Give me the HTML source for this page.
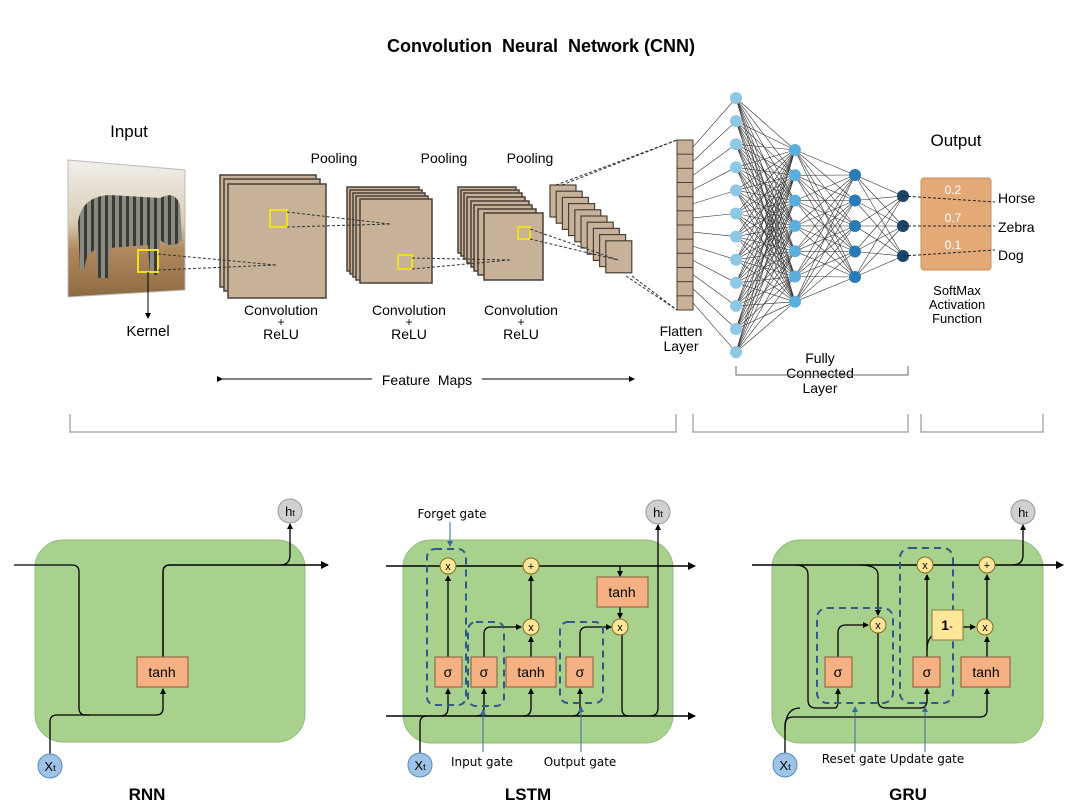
<!DOCTYPE html>
<html><head><meta charset="utf-8"><style>
html,body{margin:0;padding:0;background:#fff;}
svg{display:block;font-family:"Liberation Sans",sans-serif;}
</style></head><body>
<svg id="s" width="1080" height="803" viewBox="0 0 1080 803" xmlns="http://www.w3.org/2000/svg">
<defs>
<marker id="a" markerWidth="8" markerHeight="8" refX="7" refY="4" orient="auto" markerUnits="userSpaceOnUse"><path d="M0,0 L8,4 L0,8 z" fill="#000"/></marker>
<marker id="as" markerWidth="6" markerHeight="6" refX="5" refY="3" orient="auto" markerUnits="userSpaceOnUse"><path d="M0,0 L6,3 L0,6 z" fill="#000"/></marker>
<marker id="ab" markerWidth="6" markerHeight="6" refX="5" refY="3" orient="auto" markerUnits="userSpaceOnUse"><path d="M0,0 L6,3 L0,6 z" fill="#3a6a9a"/></marker>
<linearGradient id="zb" x1="0" y1="0" x2="0" y2="1"><stop offset="0" stop-color="#f2f0ec"/><stop offset="0.45" stop-color="#d9cdb8"/><stop offset="0.65" stop-color="#b08a5e"/><stop offset="1" stop-color="#8e6a43"/></linearGradient>
<pattern id="st" width="7" height="10" patternUnits="userSpaceOnUse"><rect width="7" height="10" fill="#8a8a80"/><rect width="3" height="10" fill="#3a3a36"/></pattern>
</defs>

<text x="541" y="52" text-anchor="middle" font-size="18" font-weight="bold">Convolution&#160; Neural&#160; Network (CNN)</text>

<!-- Input -->
<text x="129" y="137" text-anchor="middle" font-size="17">Input</text>
<polygon points="68,160 185,170 185,290 68,297" fill="url(#zb)" stroke="#bbb"/>
<g>
<path d="M78,222 Q82,196 110,195 L160,198 Q175,190 180,205 L182,240 Q172,250 160,240 L158,275 L150,275 L148,245 L110,248 L108,278 L98,278 L96,250 Q86,252 84,270 L80,270 Z" fill="url(#st)"/>
</g>
<rect x="138" y="250" width="20" height="22" fill="none" stroke="#f0e020" stroke-width="2"/>
<line x1="148" y1="272" x2="148" y2="318" stroke="#000" marker-end="url(#as)"/>
<text x="148" y="336" text-anchor="middle" font-size="15">Kernel</text>

<g fill="#c7b299" stroke="#4a4037" stroke-width="1.5">
<!-- map1 -->
<rect x="220" y="175" width="96" height="112"/><rect x="224" y="179" width="96" height="112"/><rect x="228" y="184" width="98" height="114"/>
<!-- map2 -->
<rect x="347" y="187" width="72" height="84"/><rect x="350" y="190" width="72" height="84"/><rect x="353" y="193" width="72" height="84"/><rect x="356" y="196" width="72" height="84"/><rect x="360" y="199" width="72" height="84"/>
<!-- map3 -->
<rect x="458" y="187" width="58" height="66"/><rect x="461" y="190" width="58" height="66"/><rect x="464" y="193" width="58" height="66"/><rect x="467" y="197" width="58" height="66"/><rect x="471" y="201" width="58" height="66"/><rect x="474" y="205" width="58" height="66"/><rect x="478" y="209" width="58" height="66"/><rect x="484" y="213" width="59" height="67"/>
</g>
<g fill="#c7b299" stroke="#4a4037" stroke-width="1.2" id="m4"></g>
<g fill="none" stroke="#f0e020" stroke-width="2">
<rect x="270" y="210" width="17" height="17"/><rect x="398" y="255" width="14" height="14"/><rect x="518" y="227" width="12" height="12"/>
</g>
<g stroke="#333" stroke-dasharray="3,2" stroke-width="1">
<line x1="158" y1="254" x2="276" y2="265"/><line x1="158" y1="270" x2="276" y2="265"/>
<line x1="287" y1="212" x2="390" y2="224"/><line x1="287" y1="227" x2="390" y2="224"/>
<line x1="412" y1="258" x2="510" y2="260"/><line x1="412" y1="269" x2="510" y2="260"/>
<line x1="530" y1="229" x2="618" y2="260"/><line x1="530" y1="239" x2="618" y2="260"/>
<line x1="556" y1="185" x2="677" y2="140"/><line x1="562" y1="185" x2="677" y2="140"/>
<line x1="632" y1="276" x2="677" y2="310"/><line x1="626" y1="276" x2="677" y2="310"/>
</g>
<g font-size="14" text-anchor="middle">
<text x="334" y="163">Pooling</text><text x="444" y="163">Pooling</text><text x="530" y="163">Pooling</text>
<text x="281" y="315">Convolution</text><text x="281" y="326" font-size="12">+</text><text x="281" y="339">ReLU</text>
<text x="409" y="315">Convolution</text><text x="409" y="326" font-size="12">+</text><text x="409" y="339">ReLU</text>
<text x="521" y="315">Convolution</text><text x="521" y="326" font-size="12">+</text><text x="521" y="339">ReLU</text>
<text x="427" y="385">Feature&#160; Maps</text>
<text x="681" y="336">Flatten</text><text x="681" y="351">Layer</text>
<text x="820" y="363">Fully</text><text x="820" y="378">Connected</text><text x="820" y="393">Layer</text>
<text x="957" y="295" font-size="13">SoftMax</text><text x="957" y="309" font-size="13">Activation</text><text x="957" y="323" font-size="13">Function</text>
</g>
<line x1="222" y1="379" x2="372" y2="379" stroke="#000" marker-start="url(#as)"/>
<line x1="482" y1="379" x2="634" y2="379" stroke="#000" marker-end="url(#as)"/>
<text x="956" y="146" text-anchor="middle" font-size="17">Output</text>

<g id="nn"></g>
<g id="fl"></g>

<rect x="921" y="178" width="70" height="92" rx="3" fill="#e3aa78" stroke="#c8905e"/>
<g fill="#fff" font-size="12" text-anchor="middle"><text x="953" y="194">0.2</text><text x="953" y="222">0.7</text><text x="953" y="249">0.1</text></g>
<g stroke="#222" stroke-dasharray="3,2"><line x1="903" y1="196" x2="995" y2="202"/><line x1="903" y1="226" x2="995" y2="226"/><line x1="903" y1="256" x2="995" y2="250"/></g>
<g font-size="14"><text x="998" y="203">Horse</text><text x="998" y="232">Zebra</text><text x="998" y="260">Dog</text></g>

<path d="M736,366 V375 H908 V366" fill="none" stroke="#666"/>
<g fill="none" stroke="#999" stroke-width="1.2">
<path d="M70,414 V432 H676 V414"/><path d="M693,414 V432 H908 V414"/><path d="M921,414 V432 H1043 V414"/>
</g>

<!-- RNN -->
<rect x="35" y="540" width="270" height="202" rx="28" fill="#a9d18e" stroke="#93bb78"/>
<g fill="none" stroke="#000" stroke-width="1.3">
<path d="M14,565 H72 Q79,565 79,572 V708 Q79,715 86,715 H156 Q163,715 163,708 V689" marker-end="url(#as)"/>
<path d="M50,754 V722 Q50,715 57,715 H90"/>
<path d="M163,657 V572 Q163,565 170,565 H328" stroke-width="1.5" marker-end="url(#a)"/>
<path d="M280,565 Q290,565 290,555 V524" marker-end="url(#as)"/>
</g>
<rect x="137" y="657" width="51" height="30" fill="#f4b183" stroke="#8a5a3a"/>
<text x="162" y="677" text-anchor="middle" font-size="14">tanh</text>
<circle cx="290" cy="511" r="12" fill="#d0d0d0" stroke="#999"/><text x="290" y="516" text-anchor="middle" font-size="13">h<tspan font-size="9">t</tspan></text>
<circle cx="50" cy="766" r="12" fill="#9dc3e6" stroke="#5a8abb"/><text x="50" y="771" text-anchor="middle" font-size="13">X<tspan font-size="9">t</tspan></text>
<text x="147" y="800" text-anchor="middle" font-size="17" font-weight="bold">RNN</text>

<!-- LSTM -->
<rect x="403" y="540" width="270" height="203" rx="28" fill="#a9d18e" stroke="#93bb78"/>
<g fill="none" stroke="#000" stroke-width="1.3">
<path d="M386,566 H695" stroke-width="1.5" marker-end="url(#a)"/>
<path d="M386,716 H695" stroke-width="1.5" marker-end="url(#a)"/>
<path d="M420,753 V723 Q420,716 427,716"/>
<path d="M440,716 Q448,716 448,708 V689" marker-end="url(#as)"/>
<path d="M476,716 Q484,716 484,708 V689" marker-end="url(#as)"/>
<path d="M523,716 Q531,716 531,708 V689" marker-end="url(#as)"/>
<path d="M572,716 Q580,716 580,708 V689" marker-end="url(#as)"/>
<path d="M448,657 V576" marker-end="url(#as)"/>
<path d="M484,657 V634 Q484,627 491,627 H521" marker-end="url(#as)"/>
<path d="M531,657 V637" marker-end="url(#as)"/>
<path d="M531,619 V576" marker-end="url(#as)"/>
<path d="M580,657 V634 Q580,627 587,627 H611" marker-end="url(#as)"/>
<path d="M620,566 V576" marker-end="url(#as)"/>
<path d="M620,607 V618" marker-end="url(#as)"/>
<path d="M622,635 V709 Q622,716 629,716"/>
<path d="M650,716 Q658,716 658,708 V525" marker-end="url(#as)"/>
</g>
<g fill="none" stroke="#2f5a88" stroke-width="2" stroke-dasharray="7,5">
<rect x="427" y="549" width="39" height="156" rx="8"/>
<rect x="468" y="622" width="36" height="84" rx="8"/>
<rect x="560" y="622" width="43" height="81" rx="8"/>
</g>
<g fill="#f4b183" stroke="#8a5a3a">
<rect x="435" y="657" width="27" height="30"/><rect x="471" y="657" width="26" height="30"/><rect x="506" y="657" width="50" height="30"/><rect x="566" y="657" width="27" height="30"/><rect x="597" y="577" width="51" height="30"/>
</g>
<g font-size="14" text-anchor="middle"><text x="448" y="677">σ</text><text x="484" y="677">σ</text><text x="531" y="677">tanh</text><text x="580" y="677">σ</text><text x="622" y="597">tanh</text></g>
<g fill="#ffe699" stroke="#7f6a20">
<circle cx="448" cy="566" r="8"/><circle cx="531" cy="566" r="8"/><circle cx="531" cy="627" r="8"/><circle cx="620" cy="627" r="8"/>
</g>
<g font-size="11" text-anchor="middle"><text x="448" y="570">x</text><text x="531" y="570">+</text><text x="531" y="631">x</text><text x="620" y="631">x</text></g>
<g stroke="#3a6a9a" fill="none">
<line x1="450" y1="522" x2="450" y2="546" marker-end="url(#ab)"/>
<line x1="483" y1="752" x2="483" y2="710" marker-end="url(#ab)"/>
<line x1="581" y1="752" x2="581" y2="707" marker-end="url(#ab)"/>
</g>
<g font-size="13" text-anchor="middle" font-family="DejaVu Sans, sans-serif" font-size="12">
<text x="452" y="518" font-size="12">Forget gate</text><text x="482" y="766" font-size="12">Input gate</text><text x="580" y="766" font-size="12">Output gate</text></g>
<circle cx="658" cy="512" r="12" fill="#d0d0d0" stroke="#999"/><text x="658" y="517" text-anchor="middle" font-size="13">h<tspan font-size="9">t</tspan></text>
<circle cx="420" cy="765" r="12" fill="#9dc3e6" stroke="#5a8abb"/><text x="420" y="770" text-anchor="middle" font-size="13">X<tspan font-size="9">t</tspan></text>
<text x="528" y="800" text-anchor="middle" font-size="17" font-weight="bold">LSTM</text>

<!-- GRU -->
<rect x="772" y="540" width="271" height="203" rx="28" fill="#a9d18e" stroke="#93bb78"/>
<g fill="none" stroke="#000" stroke-width="1.3">
<path d="M752,565 H1063" stroke-width="1.5" marker-end="url(#a)"/>
<path d="M795,565 Q808,565 808,575 V700 Q808,708 816,708 H835 Q838,708 838,700 V689" marker-end="url(#as)"/>
<path d="M860,565 Q878,565 878,575 V615" marker-end="url(#as)"/>
<path d="M785,753 V725 Q785,717 793,717 H980 Q987,717 987,710 V689" marker-end="url(#as)"/>
<path d="M785,730 Q785,708 800,708"/>
<path d="M878,633 V700 Q878,708 886,708 H920 Q927,708 927,700 V689" marker-end="url(#as)"/>
<path d="M838,657 V633 Q838,625 846,625 H868" marker-end="url(#as)"/>
<path d="M927,657 V575" marker-end="url(#as)"/>
<path d="M927,650 Q927,640 932,636"/>
<path d="M963,627 H975" marker-end="url(#as)"/>
<path d="M987,657 V637" marker-end="url(#as)"/>
<path d="M987,619 V575" marker-end="url(#as)"/>
<path d="M1012,565 Q1023,565 1023,555 V525" marker-end="url(#as)"/>
</g>
<g fill="none" stroke="#2f5a88" stroke-width="2" stroke-dasharray="7,5">
<rect x="817" y="608" width="76" height="95" rx="10"/>
<rect x="900" y="548" width="53" height="155" rx="10"/>
</g>
<g fill="#f4b183" stroke="#8a5a3a">
<rect x="825" y="657" width="27" height="30"/><rect x="913" y="657" width="27" height="30"/><rect x="961" y="657" width="49" height="30"/>
</g>
<rect x="932" y="610" width="31" height="30" fill="#ffe699" stroke="#8a7a40"/>
<g font-size="14" text-anchor="middle"><text x="838" y="677">σ</text><text x="927" y="677">σ</text><text x="986" y="677">tanh</text><text x="947" y="630" font-weight="bold">1<tspan font-weight="normal" font-size="11">-</tspan></text></g>
<g fill="#ffe699" stroke="#7f6a20">
<circle cx="925" cy="565" r="8"/><circle cx="987" cy="565" r="8"/><circle cx="878" cy="625" r="8"/><circle cx="985" cy="627" r="8"/>
</g>
<g font-size="11" text-anchor="middle"><text x="925" y="569">x</text><text x="987" y="569">+</text><text x="878" y="629">x</text><text x="985" y="631">x</text></g>
<g stroke="#3a6a9a" fill="none">
<line x1="855" y1="752" x2="855" y2="707" marker-end="url(#ab)"/>
<line x1="925" y1="752" x2="925" y2="707" marker-end="url(#ab)"/>
</g>
<text x="893" y="763" text-anchor="middle" font-size="12" font-family="DejaVu Sans, sans-serif">Reset gate Update gate</text>
<circle cx="1023" cy="512" r="12" fill="#d0d0d0" stroke="#999"/><text x="1023" y="517" text-anchor="middle" font-size="13">h<tspan font-size="9">t</tspan></text>
<circle cx="785" cy="765" r="12" fill="#9dc3e6" stroke="#5a8abb"/><text x="785" y="770" text-anchor="middle" font-size="13">X<tspan font-size="9">t</tspan></text>
<text x="908" y="800" text-anchor="middle" font-size="17" font-weight="bold">GRU</text>
</svg>
<script>
(function(){
var NS="http://www.w3.org/2000/svg";
function el(p,t,a){var e=document.createElementNS(NS,t);for(var k in a)e.setAttribute(k,a[k]);p.appendChild(e);return e;}
var m4=document.getElementById('m4');
for(var i=0;i<10;i++){el(m4,'rect',{x:550+i*6.2,y:185+i*6.2,width:26,height:32});}
var nn=document.getElementById('nn'),fl=document.getElementById('fl');
var L=[[736,[]],[795,[]],[855,[]],[903,[]]];
for(var i=0;i<12;i++)L[0][1].push(98+i*23.1);
for(var i=0;i<7;i++)L[1][1].push(150+i*25.3);
for(var i=0;i<5;i++)L[2][1].push(175+i*25.5);
L[3][1]=[196,226,256];
var g=el(nn,'g',{stroke:'#333','stroke-width':'0.6'});
for(var l=0;l<3;l++){L[l][1].forEach(function(a){L[l+1][1].forEach(function(b){el(g,'line',{x1:L[l][0],y1:a,x2:L[l+1][0],y2:b});});});}
// flatten
el(fl,'rect',{x:677,y:140,width:16,height:170,fill:'#c7b299',stroke:'#4a4037'});
for(var i=1;i<12;i++)el(fl,'line',{x1:677,y1:140+i*170/12,x2:693,y2:140+i*170/12,stroke:'#4a4037'});
L[0][1].forEach(function(y,i){el(g,'line',{x1:693,y1:140+(i+0.5)*170/12,x2:736,y2:y});});
var cols=['#8ec8e6','#5aaee0','#2a7ab8','#1a4468'];
for(var l=0;l<4;l++)L[l][1].forEach(function(y){el(nn,'circle',{cx:L[l][0],cy:y,r:6,fill:cols[l]});});
})();
</script>
</body></html>
